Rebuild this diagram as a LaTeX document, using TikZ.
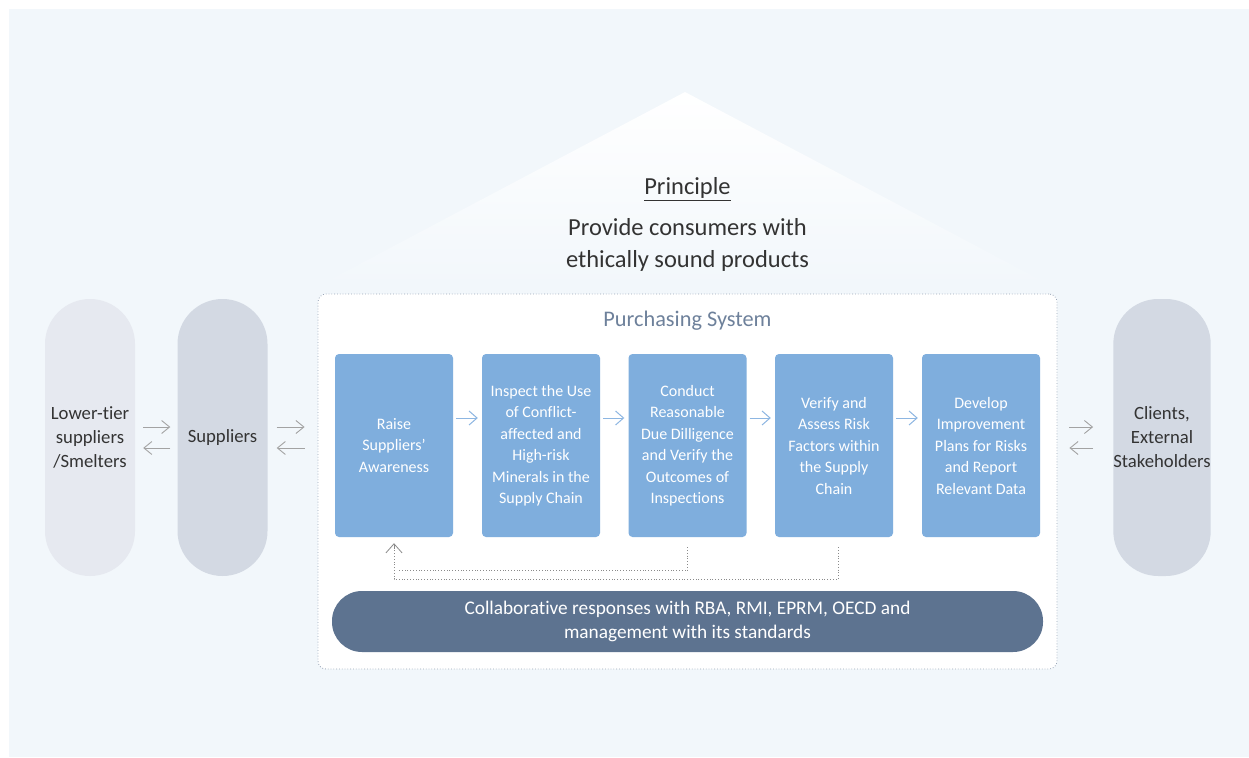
\documentclass[tikz,border=0pt]{standalone}
\usepackage{fontspec}
\setmainfont{Carlito}[RawFeature=-liga]
\usetikzlibrary{arrows.meta}
\definecolor{bgc}{HTML}{F2F7FB}
\definecolor{pillA}{HTML}{E6E9F0}
\definecolor{pillB}{HTML}{D3D9E3}
\definecolor{boxc}{HTML}{7FAEDD}
\definecolor{barc}{HTML}{5D7390}
\definecolor{txt}{HTML}{333333}
\definecolor{pst}{HTML}{6E819B}
\definecolor{garr}{HTML}{A3A3A3}
\definecolor{barr}{HTML}{8DB6E2}
\definecolor{dotc}{HTML}{9AA6B8}
\definecolor{fbc}{HTML}{8A8A8A}
\tikzset{
  pill/.style={rectangle, rounded corners=45pt, minimum width=90pt, minimum height=277pt,
    text=txt, align=center, inner sep=0pt, font=\fontsize{18.7}{24}\selectfont},
  stepbox/.style={rectangle, rounded corners=4pt, fill=boxc, minimum width=118pt,
    minimum height=183pt, text=white, align=center, inner sep=0pt,
    font=\fontsize{16}{21.5}\selectfont},
  garrow/.style={draw=garr, line width=0.9pt, -{Straight Barb[length=8pt,width=13pt,line width=0.9pt]}},
  barrow/.style={draw=barr, line width=1pt, -{Straight Barb[length=8pt,width=14pt,line width=1pt]}},
  fbline/.style={draw=fbc, line width=0.8pt, dotted},
}
\begin{document}
\begin{tikzpicture}[x=1pt,y=-1pt]
\useasboundingbox (0,0) rectangle (1249,757);
\fill[white] (0,0) rectangle (1249,757);
\fill[bgc] (9,9) rectangle (1249,757);
% roof
\shade[top color=white, middle color=white, bottom color=bgc] (685,92) -- (1052,286) -- (318,286) -- cycle;
\node[text=txt, font=\fontsize{24.5}{30}\selectfont] (pr) at (687.5,189) {\underline{Principle}};
\node[text=txt, align=center, font=\fontsize{24.5}{32}\selectfont] (prt) at (687.5,245) {Provide consumers with\\ethically sound products};
% pills
\node[pill, fill=pillA] (lt) at (90,437.5) {Lower-tier\\suppliers\\/Smelters};
\node[pill, fill=pillB] (sup) at (222.5,437.5) {Suppliers};
\node[pill, fill=pillB] (cl) at (1162,437.5) {Clients,\\External\\Stakeholders};
% purchasing system frame
\node[draw=dotc, dotted, line width=0.8pt, fill=white, rounded corners=8pt, minimum width=739pt, minimum height=375pt, inner sep=0pt] (ps) at (687.5,481.5) {};
\node[text=pst, font=\fontsize{22.3}{26}\selectfont] (pstitle) at (687.5,321) {Purchasing System};
\coordinate (psl) at (ps.west |- sup.east);
\coordinate (psr) at (ps.east |- cl.west);
% steps
\node[stepbox] (b1) at (394,445.5) {Raise\\Suppliers'\\Awareness};
\node[stepbox] (b2) at (541,445.5) {Inspect the Use\\of Conflict-\\affected and\\High-risk\\Minerals in the\\Supply Chain};
\node[stepbox] (b3) at (687.5,445.5) {Conduct\\Reasonable\\Due Dilligence\\and Verify the\\Outcomes of\\Inspections};
\node[stepbox] (b4) at (834,445.5) {Verify and\\Assess Risk\\Factors within\\the Supply\\Chain};
\node[stepbox] (b5) at (981,445.5) {Develop\\Improvement\\Plans for Risks\\and Report\\Relevant Data};
% step arrows
\foreach \a/\b in {b1/b2,b2/b3,b3/b4,b4/b5}{
  \draw[barrow] ([xshift=3pt,yshift=27.5pt]\a.east) -- ([xshift=-4pt,yshift=27.5pt]\b.west);
}
% feedback
\draw[fbline] ([xshift=4pt,yshift=-10pt]b4.south) |- ([yshift=-42pt]b1.south) -- ([yshift=-8pt]b1.south);
\draw[draw=fbc, line width=0.8pt, -{Straight Barb[length=9pt,width=16pt,line width=0.8pt]}] ([yshift=-12pt]b1.south) -- ([yshift=-6pt]b1.south);
\draw[fbline] ([yshift=-10pt]b3.south) |- ([xshift=3pt,yshift=-33pt]b1.south);
% bar
\node[rectangle, rounded corners=30pt, fill=barc, minimum width=711pt, minimum height=61pt, text=white, align=center, inner sep=0pt, font=\fontsize{19.3}{24}\selectfont] (bar) at (687.5,621.5) {Collaborative responses with RBA, RMI, EPRM, OECD and\\management with its standards};
% double arrows
\draw[garrow] ([xshift=8pt,yshift=10.5pt]lt.east) -- ([xshift=-7pt,yshift=10.5pt]sup.west);
\draw[garrow] ([xshift=-7pt,yshift=-10.5pt]sup.west) -- ([xshift=8pt,yshift=-10.5pt]lt.east);
\draw[garrow] ([xshift=9pt,yshift=10.5pt]sup.east) -- ([xshift=-13pt,yshift=10.5pt]psl);
\draw[garrow] ([xshift=-13pt,yshift=-10.5pt]psl) -- ([xshift=9pt,yshift=-10.5pt]sup.east);
\draw[garrow] ([xshift=12pt,yshift=10.5pt]psr) -- ([xshift=-20pt,yshift=10.5pt]cl.west);
\draw[garrow] ([xshift=-20pt,yshift=-10.5pt]cl.west) -- ([xshift=12pt,yshift=-10.5pt]psr);
\end{tikzpicture}
\end{document}
